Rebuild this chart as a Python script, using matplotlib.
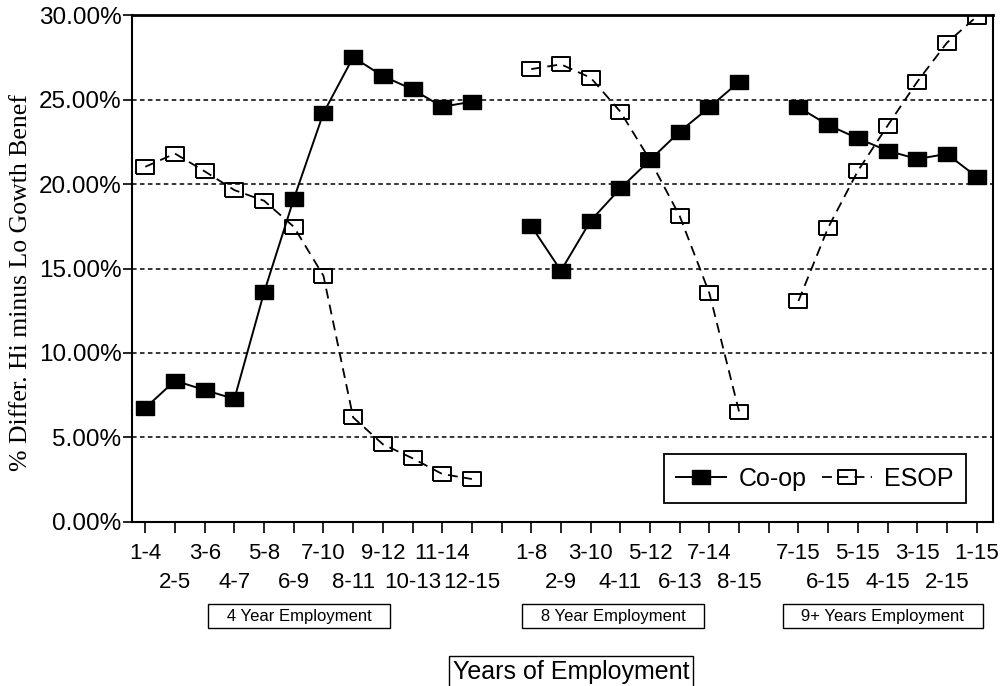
import numpy as np
import matplotlib
matplotlib.use("Agg")
import matplotlib.pyplot as plt
from matplotlib.ticker import PercentFormatter
from matplotlib.transforms import blended_transform_factory

plt.rcParams['font.family'] = ['Liberation Sans', 'DejaVu Sans']

# categories (years of employment windows), one list per group
group_names = ["4 Year Employment", "8 Year Employment", "9+ Years Employment"]
labels_4yr = ["1-4", "2-5", "3-6", "4-7", "5-8", "6-9", "7-10", "8-11",
              "9-12", "10-13", "11-14", "12-15"]
labels_8yr = ["1-8", "2-9", "3-10", "4-11", "5-12", "6-13", "7-14", "8-15"]
labels_9yr = ["7-15", "6-15", "5-15", "4-15", "3-15", "2-15", "1-15"]

# % difference, high minus low growth benefit
coop_4yr = [6.75, 8.36, 7.81, 7.28, 13.59, 19.11, 24.2, 27.5, 26.39, 25.6, 24.57, 24.87]
coop_8yr = [17.51, 14.87, 17.83, 19.74, 21.42, 23.1, 24.54, 26.05]
coop_9yr = [24.54, 23.49, 22.7, 21.97, 21.48, 21.78, 20.43]

esop_4yr = [21.02, 21.8, 20.75, 19.64, 19.01, 17.47, 14.57, 6.19, 4.6, 3.77, 2.84, 2.54]
esop_8yr = [26.8, 27.08, 26.29, 24.28, 21.42, 18.1, 13.53, 6.53]
esop_9yr = [13.08, 17.42, 20.77, 23.45, 26.05, 28.36, 29.9]

y_ticks = [0, 5, 10, 15, 20, 25, 30]


def join(groups):
    # one empty slot between the groups so the lines break
    out = []
    for i, g in enumerate(groups):
        if i:
            out.append(np.nan)
        out.extend(g)
    return np.array(out, dtype=float)


coop = join([coop_4yr, coop_8yr, coop_9yr])
esop = join([esop_4yr, esop_8yr, esop_9yr])
x = np.arange(len(coop))

# tick positions: labels alternate between two rows inside each group
top_pos, top_lab, low_pos, low_lab, group_pos = [], [], [], [], []
pos = 0
for gi, labs in enumerate([labels_4yr, labels_8yr, labels_9yr]):
    if gi:
        low_pos.append(pos)
        low_lab.append("")
        pos += 1
    group_pos.append(pos + (len(labs) - 1) / 2)
    for j, lab in enumerate(labs):
        if j % 2 == 0:
            top_pos.append(pos)
            top_lab.append(lab)
        else:
            low_pos.append(pos)
            low_lab.append(lab)
        pos += 1

# wide rectangle marker
rect = [(-1.3, -1), (1.3, -1), (1.3, 1), (-1.3, 1), (-1.3, -1)]

fig = plt.figure(figsize=(10.05, 6.86), dpi=100)
ax = fig.add_axes([0.1313, 0.2391, 0.8567, 0.739])

ax.plot(x, coop, color="black", lw=1.4, marker=rect, ms=12.5,
        mfc="black", mec="black", label="Co-op", zorder=3)
ax.plot(x, esop, color="black", lw=1.3, ls=(0, (5.5, 3.5)), marker=rect, ms=13.5,
        mfc="none", mec="black", mew=1.4, label="ESOP", zorder=3)

ax.set_xlim(-0.45, 28.55)
ax.set_ylim(0, 30)
ax.set_yticks(y_ticks)
ax.yaxis.set_major_formatter(PercentFormatter(xmax=100, decimals=2))
ax.yaxis.grid(True, color="black", lw=1.1, ls=(0, (3, 2.2)))
ax.set_axisbelow(True)

ax.set_xticks(top_pos, top_lab)
ax.set_xticks(low_pos, low_lab, minor=True)
ax.tick_params(axis="x", which="both", direction="out", length=8, width=1.2,
               labelsize=16)
ax.tick_params(axis="x", which="major", pad=7)
ax.tick_params(axis="x", which="minor", pad=28)
ax.tick_params(axis="y", direction="out", length=6.5, width=1.2, pad=1,
               labelsize=17.5)
for s in ax.spines.values():
    s.set_linewidth(1.5)
ax.spines["top"].set_linewidth(2)

leg = ax.legend(loc="lower right", bbox_to_anchor=(0.969, 0.037), ncol=2,
                fontsize=18, fancybox=False, edgecolor="black", framealpha=1,
                borderaxespad=0, handlelength=2.0, columnspacing=0.6,
                handletextpad=0.5, borderpad=0.5)
leg.get_frame().set_linewidth(1.3)

# group boxes under the tick labels
trans = blended_transform_factory(ax.transData, fig.transFigure)
group_label_x = [group_pos[0] - 0.32, group_pos[1] - 0.75, group_pos[2] - 0.16]
for gx, name in zip(group_label_x, group_names):
    ax.text(gx, 0.102, "   " + name + "   ", transform=trans, ha="center",
            va="center", fontsize=12,
            bbox=dict(boxstyle="square,pad=0.27", fc="white", ec="black", lw=1))

ax.set_xlabel("Years of Employment", fontsize=18,
              bbox=dict(boxstyle="square,pad=0.15", fc="white", ec="black", lw=1))
ax.xaxis.set_label_coords(0.510, -0.296)
ax.xaxis.label.set_va("center")

ax.set_ylabel("% Differ. Hi minus Lo Gowth Benef", family="Liberation Serif",
              fontsize=18.5)
ax.yaxis.set_label_coords(-0.129, 0.473)
ax.yaxis.label.set_va("center")

fig.savefig("out.png", dpi=100)
